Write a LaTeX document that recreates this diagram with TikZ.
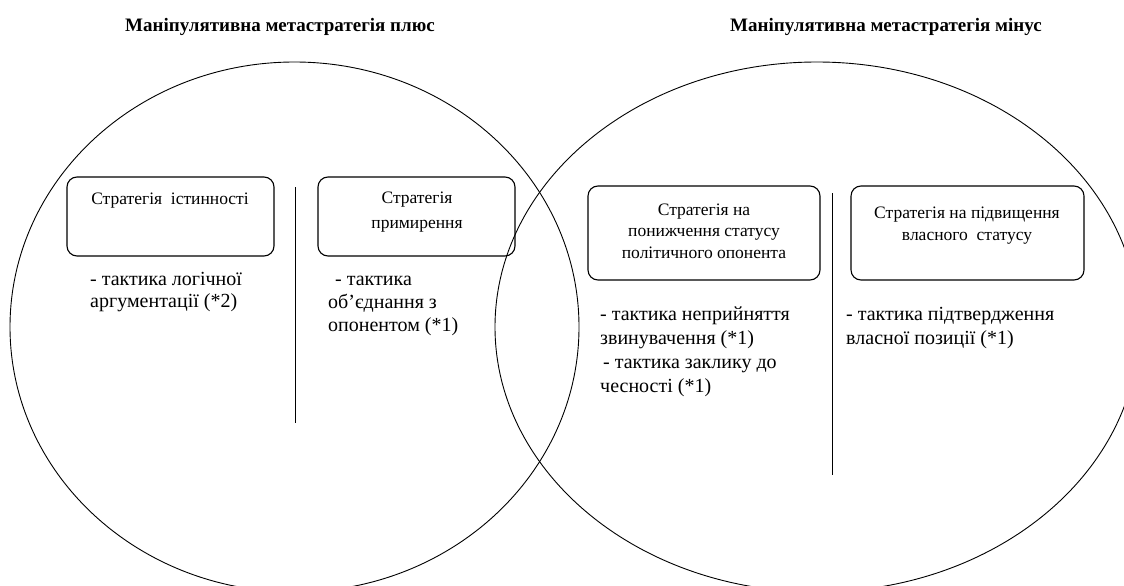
\documentclass[tikz,border=0pt]{standalone}
\usepackage{fontspec}
\setmainfont{Liberation Serif}
\usetikzlibrary{positioning}

\begin{document}
\begin{tikzpicture}[x=1pt,y=-1pt,
  title/.style={font=\fontsize{19}{22}\selectfont\bfseries, inner sep=0pt, anchor=base},
  strat/.style={draw, line width=1.1pt, rounded corners=10pt},
  stext/.style={font=\fontsize{17.5}{22}\selectfont, align=center, inner sep=0pt, anchor=base},
  tact/.style={font=\fontsize{20}{23}\selectfont, align=left, inner sep=0pt, anchor=base west}]
\useasboundingbox (0,0) rectangle (1124,586);
\clip (0,0) rectangle (1124,586);
% ellipses
\draw[line width=0.9pt] (294.5,327) ellipse (284.5 and 265);
\draw[line width=0.9pt] (817,327) ellipse (322 and 265);
% titres
\node[title] (plus) at (280,32) {Маніпулятивна метастратегія плюс};
\node[title] (minus) at (886,32) {Маніпулятивна метастратегія мінус};
% strategies
\node[strat, minimum width=207pt, minimum height=79pt] (b1) at (170.5,216.5) {};
\node[strat, minimum width=197pt, minimum height=79pt] (b2) at (416.5,216.5) {};
\node[strat, minimum width=232pt, minimum height=94pt] (b3) at (704,233) {};
\node[strat, minimum width=233pt, minimum height=94pt] (b4) at (967.5,233) {};
% textes (base = derniere ligne)
\node[stext] (t1) at (170,204) {Стратегія~ істинності};
\node[stext] (t2) at (417,228) {Стратегія\\[3pt]примирення};
\node[stext] (t3) at (704,258) {Стратегія на\\[-0.5pt]понижчення статусу\\[-0.5pt]політичного опонента};
\node[stext] (t4) at (967,240) {Стратегія на підвищення\\власного~ статусу};
% tactics
\node[tact] (k1) at (90,307) {- тактика логічної\\[-1pt]аргументації (*2)};
\node[tact] (k2) at (328,331) {\hspace*{7pt}- тактика\\об’єднання з\\опонентом (*1)};
\node[tact] (k3) at (600,392) {- тактика неприйняття\\[1pt]звинувачення (*1)\\[1pt]\hspace*{3pt}- тактика заклику до\\[1pt]чесності (*1)};
\node[tact] (k4) at (846,344) {- тактика підтвердження\\[1pt]власної позиції (*1)};
% lignes
\coordinate (d1a) at (295,187);
\coordinate (d1b) at (295,423);
\coordinate (d2a) at (832,193);
\coordinate (d2b) at (832,475);
\draw[line width=0.9pt] (d1a) -- (d1b);
\draw[line width=0.9pt] (d2a) -- (d2b);
\end{tikzpicture}
\end{document}
